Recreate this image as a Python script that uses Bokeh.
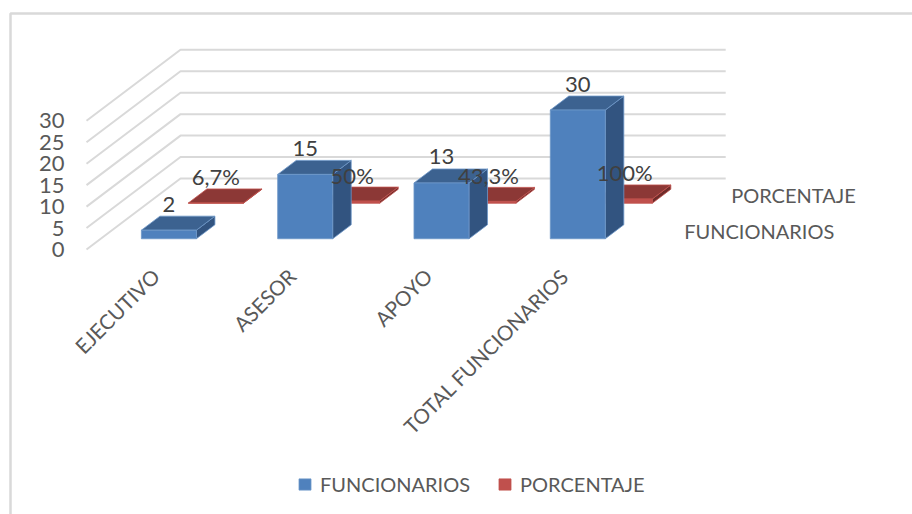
from bokeh.embed import file_html
from bokeh.resources import INLINE
from bokeh.plotting import figure
from bokeh.core.properties import value
from bokeh.models import (BoxAnnotation, FixedTicker, Legend, LegendItem, LinearAxis,
                          Range1d)
import math

categories = ["EJECUTIVO", "ASESOR", "APOYO", "TOTAL FUNCIONARIOS"]
funcionarios = [2, 15, 13, 30]
porcentaje = [0.067, 0.5, 0.433, 1.0]
funcionarios_labels = ["2", "15", "13", "30"]
porcentaje_labels = ["6,7%", "50%", "43,3%", "100%"]
series_names = ["FUNCIONARIOS", "PORCENTAJE"]
value_ticks = [0, 5, 10, 15, 20, 25, 30]

W, H = 912, 514
PX_PER_CAT = 136.3
PX_PER_VAL = 4.29
ORIGIN_X, ORIGIN_Y = 86, 249
DEPTH_DX, DEPTH_DY = 94, 71
FONT = "Lato"
TEXT = "#595959"
LABEL = "#404040"
GRID = "#d9d9d9"

# Oblique projection: a step through the depth axis moves a point up and to the right.
SHEAR_X = DEPTH_DX / PX_PER_CAT
SHEAR_Y = DEPTH_DY / PX_PER_VAL


def proj(cat, val, depth):
    return cat + depth * SHEAR_X, val + depth * SHEAR_Y


p = figure(width=W, height=H, output_backend="svg", toolbar_location=None,
           x_axis_type=None, y_axis_type=None, min_border=0,
           x_range=Range1d(-ORIGIN_X / PX_PER_CAT, (W - ORIGIN_X) / PX_PER_CAT),
           y_range=Range1d((ORIGIN_Y - H) / PX_PER_VAL, ORIGIN_Y / PX_PER_VAL))
p.outline_line_color = None
p.grid.visible = False
p.background_fill_color = "white"

# Chart area border: only its top and left edges fall inside the page
p.add_layout(BoxAnnotation(left=10, right=W + 5, top=H - 13, bottom=-5,
                           left_units="screen", right_units="screen",
                           top_units="screen", bottom_units="screen",
                           fill_alpha=0, line_color=GRID, line_alpha=1, line_width=2.5))

# Gridlines run across the side wall and then along the back wall
n_cat = len(categories)
gx, gy = [], []
for v in value_ticks:
    a, b, c = proj(0, v, 0), proj(0, v, 1), proj(n_cat, v, 1)
    gx.append([a[0], b[0], c[0]])
    gy.append([a[1], b[1], c[1]])
p.multi_line(gx, gy, line_color=GRID, line_width=2)

BAR_W = 55 / PX_PER_CAT
BAR_D = 14 / DEPTH_DY


def box(values, depth_center, front, top, side, edge):
    d0, d1 = depth_center - BAR_D / 2, depth_center + BAR_D / 2
    fx, fy, tx, ty, sx, sy = [], [], [], [], [], []
    for i, v in enumerate(values):
        l, r = i + 0.5 - BAR_W / 2, i + 0.5 + BAR_W / 2
        corners = [proj(l, 0, d0), proj(r, 0, d0), proj(r, v, d0), proj(l, v, d0)]
        fx.append([c[0] for c in corners]); fy.append([c[1] for c in corners])
        corners = [proj(l, v, d0), proj(r, v, d0), proj(r, v, d1), proj(l, v, d1)]
        tx.append([c[0] for c in corners]); ty.append([c[1] for c in corners])
        corners = [proj(r, 0, d0), proj(r, 0, d1), proj(r, v, d1), proj(r, v, d0)]
        sx.append([c[0] for c in corners]); sy.append([c[1] for c in corners])
    p.patches(sx, sy, fill_color=side, line_color=edge, line_width=0.8)
    p.patches(tx, ty, fill_color=top, line_color=edge, line_width=0.8)
    return p.patches(fx, fy, fill_color=front, line_color=edge, line_width=0.8)


RED_D, BLUE_D = 0.75, 0.25
red = box(porcentaje, RED_D, "#c0504d", "#8c3836", "#6f2c2a", "#c0504d")
blue = box(funcionarios, BLUE_D, "#4f81bd", "#3c6290", "#325480", "#6d97c8")

# Value axis pinned to the front edge of the side wall
yaxis = LinearAxis(fixed_location=0, ticker=FixedTicker(ticks=value_ticks),
                   axis_line_color=None, major_tick_line_color=None,
                   minor_tick_line_color=None, major_label_standoff=16,
                   major_label_text_font=FONT, major_label_text_font_size="22px",
                   major_label_text_color=TEXT)
p.add_layout(yaxis, "left")


def texts(x, y, labels, color, size="20px", align="center", baseline="middle",
          angle=0.0, x_offset=0, y_offset=0):
    p.text(x, y, text=labels, text_font=value(FONT), text_font_size=size,
           text_color=color, text_align=align, text_baseline=baseline,
           angle=angle, x_offset=x_offset, y_offset=y_offset)


def value_labels(values, depth_center, labels):
    pts = [proj(i + 0.5, v, depth_center - BAR_D / 2) for i, v in enumerate(values)]
    texts([q[0] for q in pts], [q[1] for q in pts], labels, LABEL, size="22px",
          y_offset=-26)


value_labels(funcionarios, BLUE_D, funcionarios_labels)
value_labels(porcentaje, RED_D, porcentaje_labels)

# Category labels, slanted and ending under their columns
cat_xy = [proj(i + 0.5, 0, 0) for i in range(n_cat)]
texts([q[0] for q in cat_xy], [q[1] for q in cat_xy], categories, TEXT, size="20.6px",
      align="right", baseline="middle", angle=math.pi / 4, x_offset=1, y_offset=23)

# Series names beside the floor at the end of the depth axis
depth_xy = [proj(n_cat, 0, d) for d in (BLUE_D, RED_D)]
texts([q[0] for q in depth_xy], [q[1] for q in depth_xy], series_names, TEXT,
      align="left", x_offset=29, y_offset=-1)

legend = Legend(items=[LegendItem(label=series_names[0], renderers=[blue]),
                       LegendItem(label=series_names[1], renderers=[red])],
                orientation="horizontal", location=(297, 18),
                background_fill_alpha=0, border_line_color=None,
                glyph_width=15, glyph_height=14, label_standoff=8, spacing=27,
                margin=0, padding=8, label_text_font=FONT,
                label_text_font_size="20px", label_text_color=TEXT)
p.add_layout(legend)

open("out.html", "w").write(file_html(p, INLINE))
